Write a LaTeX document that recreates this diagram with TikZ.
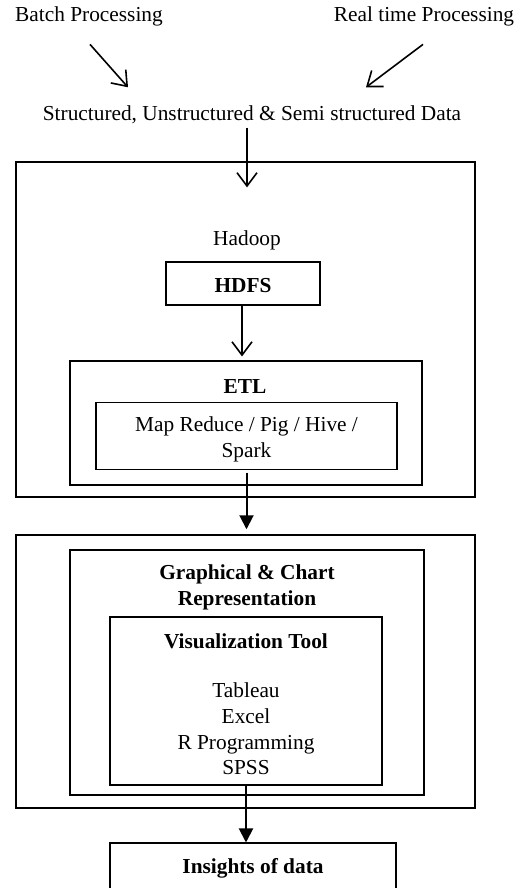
\documentclass[tikz,border=0pt]{standalone}
\usepackage{fontspec}
\setmainfont{Liberation Serif}
\usetikzlibrary{arrows.meta}

\begin{document}
\begin{tikzpicture}[x=0.75pt,y=-0.75pt]
        % 스타일 정의
        \tikzset{txt/.style={font=\fontsize{16}{19.3}\selectfont, inner sep=0pt, align=center}}
        \tikzset{bigbox/.style={draw, line width=1.6pt, inner sep=0pt}}
        \tikzset{smallbox/.style={draw, line width=0.8pt, inner sep=0pt, txt}}
        \tikzset{openarr/.style={line width=1.2pt, -{Straight Barb[length=10pt,width=15pt,line width=1.2pt]}}}
        \tikzset{solidarr/.style={line width=1.5pt, -{Triangle[length=10.5pt,width=10.5pt]}}}

        \useasboundingbox (0,0) rectangle (522,888);
        \clip (0,0) rectangle (522,888);
        \fill[white] (0,0) rectangle (522,888);

        % 1. 입력 데이터
        \node[txt] (batch) at (89,16) {Batch Processing};
        \node[txt] (realtime) at (424,16) {Real time Processing};
        \node[txt] (data) at (252,115) {Structured, Unstructured \& Semi structured Data};

        % 2. Hadoop 영역
        \node[bigbox, minimum width=344.25pt, minimum height=251.25pt] (hadoopbox) at (245.5,329.5) {};
        \node[txt] (hadoop) at (247,240) {Hadoop};
        \node[smallbox, minimum width=115.5pt, minimum height=32.25pt] (hdfs) at (243,283.5) {\rule{0pt}{14pt}\textbf{HDFS}};
        \node[smallbox, minimum width=264pt, minimum height=93pt] (etlbox) at (246,423) {};
        \node[txt] (etl) at (245,387) {\textbf{ETL}};
        \node[smallbox, minimum width=225.75pt, minimum height=50.25pt] (mapred) at (246.5,436) {\rule{0pt}{16pt}Map Reduce / Pig / Hive /\\Spark};

        % 3. 시각화 영역
        \node[bigbox, minimum width=344.25pt, minimum height=204.75pt] (vizbox) at (245.5,671.5) {};
        \node[smallbox, minimum width=265.5pt, minimum height=183.75pt] (graphbox) at (247,672.5) {};
        \node[txt, font=\fontsize{16}{19.3}\selectfont\bfseries] (graph) at (247,587.5) {Graphical \& Chart\\Representation};
        \node[smallbox, minimum width=204pt, minimum height=126pt] (vtool) at (246,701) {};
        \node[txt] (vtitle) at (246,641.5) {\textbf{Visualization Tool}};
        \node[txt] (tools) at (246,729) {Tableau\\Excel\\R Programming\\SPSS};

        % 4. 결과
        \node[smallbox, minimum width=214.5pt, minimum height=36pt] (insights) at (253,867) {\rule{0pt}{14pt}\textbf{Insights of data}};

        % 화살표
        \draw[openarr] ([xshift=0.75pt,yshift=-13.8pt]batch.south) -- ([xshift=-93pt,yshift=13.8pt]data.north);
        \draw[openarr] ([xshift=-0.75pt,yshift=-13.8pt]realtime.south) -- ([xshift=85.5pt,yshift=13.8pt]data.north);
        \draw[openarr] ([xshift=-3.75pt,yshift=-2.5pt]data.south) -- ([yshift=32pt]hadoop.north);
        \draw[openarr, shorten >=3pt] ([xshift=-0.75pt]hdfs.south) -- ([xshift=-0.75pt]hdfs.south |- etlbox.north);
        \draw[solidarr, shorten <=2pt, shorten >=3.5pt] (mapred.south) -- (mapred.south |- vizbox.north);
        \draw[solidarr] (vtool.south) -- (vtool.south |- insights.north);
\end{tikzpicture}
\end{document}
